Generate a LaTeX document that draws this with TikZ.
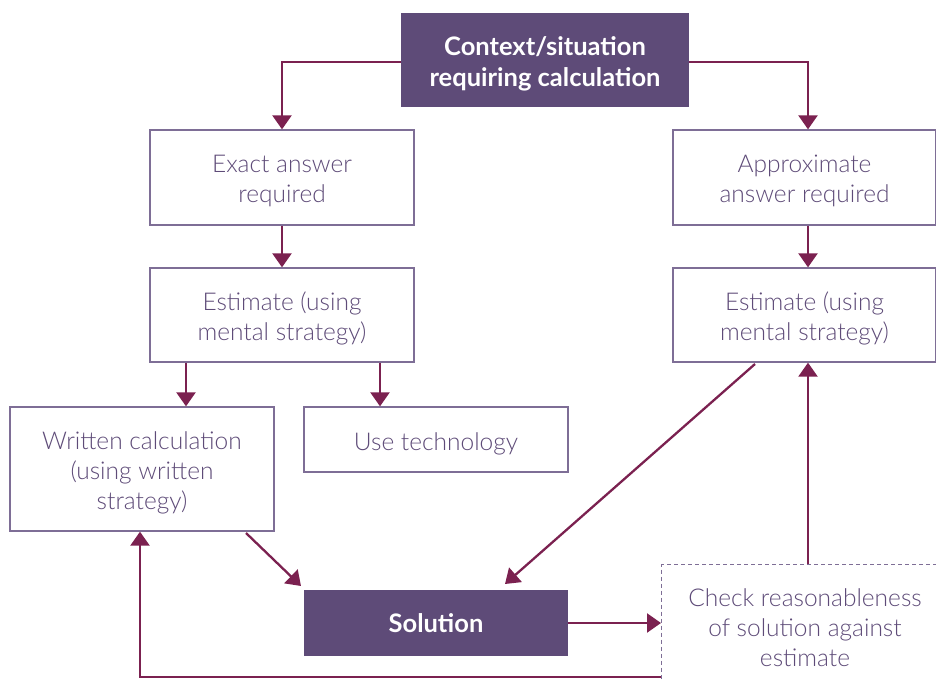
\documentclass[tikz,border=0pt]{standalone}
\usepackage{fontspec}
\setmainfont{Lato}
\newfontfamily\lightfont{Lato}[UprightFont=* Light]
\usetikzlibrary{arrows.meta}
\definecolor{boxpurple}{HTML}{5E4B78}
\definecolor{arrowred}{HTML}{7B2150}
\definecolor{edgepurple}{HTML}{7E6E96}
\newcommand\mystrut[1]{\rule{0pt}{#1}}
\tikzset{
  plainbox/.style={draw=edgepurple, line width=1.3pt, fill=white, text=boxpurple, align=center, inner sep=0pt, font=\lightfont\fontsize{24.5}{30}\selectfont},
  darkbox/.style={fill=boxpurple, text=white, align=center, inner sep=0pt, font=\fontsize{25.5}{31}\selectfont\bfseries},
  dashbox/.style={draw=edgepurple, line width=1.2pt, dash pattern=on 4pt off 3pt, fill=white, text=boxpurple, align=center, inner sep=0pt},
  conn/.style={draw=arrowred, line width=2.3pt},
  arr/.style={conn, -{Triangle[width=19pt,length=14pt]}}
}
\begin{document}
\begin{tikzpicture}[x=1pt,y=-1pt]
\useasboundingbox (0,0) rectangle (936,680);
% boxes
\node[darkbox, minimum width=288pt, minimum height=94pt] (ctx) at (545,60) {\mystrut{27pt}Context/situation\\requiring calculation};
\node[plainbox, minimum width=264pt, minimum height=95pt] (exact) at (282,177.5) {\mystrut{25pt}Exact answer\\required};
\node[plainbox, minimum width=263pt, minimum height=95pt] (approx) at (804.5,177.5) {\mystrut{25pt}Approximate\\answer required};
\node[plainbox, minimum width=264pt, minimum height=94pt] (estl) at (282,315) {\mystrut{26pt}Estimate (using\\mental strategy)};
\node[plainbox, minimum width=263pt, minimum height=94pt] (estr) at (804.5,315) {\mystrut{26pt}Estimate (using\\mental strategy)};
\node[plainbox, minimum width=264pt, minimum height=124pt] (writ) at (142,469) {\mystrut{26pt}Written calculation\\(using written\\strategy)};
\node[plainbox, minimum width=264pt, minimum height=65pt] (tech) at (436,439.5) {\mystrut{26pt}Use technology};
\node[darkbox, minimum width=264pt, minimum height=66pt] (sol) at (436,623) {Solution};
\node[dashbox, minimum width=276pt, minimum height=122pt, anchor=north west] (chk) at (661,564) {};
\node[text=boxpurple, align=center, font=\lightfont\fontsize{24.5}{30}\selectfont] (chktxt) at (805,627.5) {Check reasonableness\\of solution against\\estimate};
% coordinates
\coordinate (c1) at (282,62);
\coordinate (c2) at (808,62);
\coordinate (c3) at (140,677);
\coordinate (c4) at (661,677);
% connectors
\draw[arr] (ctx.west |- c1) -- (c1) -- (exact.north -| c1);
\draw[arr] (ctx.east |- c2) -- (c2) -- (approx.north -| c2);
\draw[arr] (exact.south) -- (estl.north);
\draw[arr] (approx.south -| c2) -- (estr.north -| c2);
\draw[arr] (estl.south -| 186,0) -- (writ.north -| 186,0);
\draw[arr] (estl.south -| 380,0) -- (tech.north -| 380,0);
\draw[arr] (246,533) -- (301,586);
\draw[arr] (755,364) -- (505,584);
\draw[arr] (sol.east) -- (chk.west |- sol.east);
\draw[arr] (chk.north -| c2) -- (estr.south -| c2);
\draw[arr] (c4) -- (c3) -- (writ.south -| c3);
\end{tikzpicture}
\end{document}
